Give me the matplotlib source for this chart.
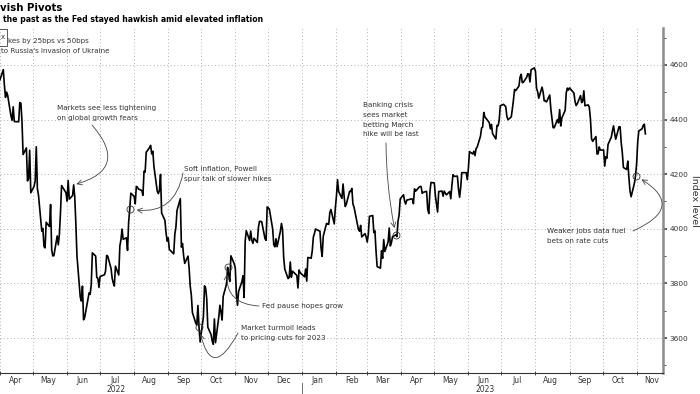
import pandas as pd
import matplotlib
matplotlib.use("Agg")
import matplotlib.pyplot as plt
import matplotlib.dates as mdates
from matplotlib.ticker import MultipleLocator, NullFormatter
from matplotlib.patches import Rectangle

# S&P 500 daily closes
days_2022 = [
    "04-01", "04-04", "04-05", "04-06", "04-07", "04-08", "04-11", "04-12", "04-13", "04-14",
    "04-18", "04-19", "04-20", "04-21", "04-22", "04-25", "04-26", "04-27", "04-28", "04-29",
    "05-02", "05-03", "05-04", "05-05", "05-06", "05-09", "05-10", "05-11", "05-12", "05-13",
    "05-16", "05-17", "05-18", "05-19", "05-20", "05-23", "05-24", "05-25", "05-26", "05-27", "05-31",
    "06-01", "06-02", "06-03", "06-06", "06-07", "06-08", "06-09", "06-10", "06-13", "06-14",
    "06-15", "06-16", "06-17", "06-21", "06-22", "06-23", "06-24", "06-27", "06-28", "06-29", "06-30",
    "07-01", "07-05", "07-06", "07-07", "07-08", "07-11", "07-12", "07-13", "07-14", "07-15",
    "07-18", "07-19", "07-20", "07-21", "07-22", "07-25", "07-26", "07-27", "07-28", "07-29",
    "08-01", "08-02", "08-03", "08-04", "08-05", "08-08", "08-09", "08-10", "08-11", "08-12",
    "08-15", "08-16", "08-17", "08-18", "08-19", "08-22", "08-23", "08-24", "08-25", "08-26",
    "08-29", "08-30", "08-31",
    "09-01", "09-02", "09-06", "09-07", "09-08", "09-09", "09-12", "09-13", "09-14", "09-15",
    "09-16", "09-19", "09-20", "09-21", "09-22", "09-23", "09-26", "09-27", "09-28", "09-29", "09-30",
    "10-03", "10-04", "10-05", "10-06", "10-07", "10-10", "10-11", "10-12", "10-13", "10-14",
    "10-17", "10-18", "10-19", "10-20", "10-21", "10-24", "10-25", "10-26", "10-27", "10-28", "10-31",
    "11-01", "11-02", "11-03", "11-04", "11-07", "11-08", "11-09", "11-10", "11-11", "11-14",
    "11-15", "11-16", "11-17", "11-18", "11-21", "11-22", "11-23", "11-25", "11-28", "11-29", "11-30",
    "12-01", "12-02", "12-05", "12-06", "12-07", "12-08", "12-09", "12-12", "12-13", "12-14",
    "12-15", "12-16", "12-19", "12-20", "12-21", "12-22", "12-23", "12-27", "12-28", "12-29", "12-30",
]
close_2022 = [
    4545.86, 4582.64, 4525.12, 4481.15, 4500.21, 4488.28, 4412.53, 4397.45, 4446.59, 4392.59,
    4391.69, 4462.21, 4459.45, 4393.66, 4271.78, 4296.12, 4175.20, 4183.96, 4287.50, 4131.93,
    4155.38, 4175.48, 4300.17, 4146.87, 4123.34, 3991.24, 4001.05, 3935.18, 3930.08, 4023.89,
    4008.01, 4088.85, 3923.68, 3900.79, 3901.36, 3973.75, 3941.48, 3978.73, 4057.84, 4158.24, 4132.15,
    4101.23, 4176.82, 4108.54, 4121.43, 4160.68, 4115.77, 4017.82, 3900.86, 3749.63, 3735.48,
    3789.99, 3666.77, 3674.84, 3764.79, 3759.89, 3795.73, 3911.74, 3900.11, 3821.55, 3818.83, 3785.38,
    3825.33, 3831.39, 3845.08, 3902.62, 3899.38, 3854.43, 3818.80, 3801.78, 3790.38, 3863.16,
    3830.85, 3936.69, 3959.90, 3998.95, 3961.63, 3966.84, 3921.05, 4023.61, 4072.43, 4130.29,
    4118.63, 4091.19, 4155.17, 4151.94, 4145.19, 4140.06, 4122.47, 4210.24, 4207.27, 4280.15,
    4297.14, 4305.20, 4274.04, 4283.74, 4228.48, 4137.99, 4128.73, 4140.77, 4199.12, 4057.66,
    4030.61, 3986.16, 3955.00,
    3966.85, 3924.26, 3908.19, 3979.87, 4006.18, 4067.36, 4110.41, 3932.69, 3946.01, 3901.35,
    3873.33, 3899.89, 3855.93, 3789.93, 3757.99, 3693.23, 3655.04, 3647.29, 3719.04, 3640.47, 3585.62,
    3678.43, 3790.93, 3783.28, 3744.52, 3639.66, 3612.39, 3588.84, 3577.03, 3669.91, 3583.07,
    3677.95, 3719.98, 3695.16, 3665.78, 3752.75, 3797.34, 3859.11, 3830.60, 3807.30, 3901.06, 3871.98,
    3856.10, 3759.69, 3719.89, 3770.55, 3806.80, 3828.11, 3748.57, 3956.37, 3992.93, 3957.25,
    3991.73, 3958.79, 3946.56, 3965.34, 3949.94, 4003.58, 4027.26, 4026.12, 3963.94, 3957.63, 4080.11,
    4076.57, 4071.70, 3998.84, 3941.26, 3933.92, 3963.51, 3934.38, 3990.56, 4019.65, 3995.32,
    3895.75, 3852.36, 3817.66, 3821.62, 3878.44, 3822.39, 3844.82, 3829.25, 3783.22, 3849.28, 3839.50,
]
days_2023 = [
    "01-03", "01-04", "01-05", "01-06", "01-09", "01-10", "01-11", "01-12", "01-13", "01-17",
    "01-18", "01-19", "01-20", "01-23", "01-24", "01-25", "01-26", "01-27", "01-30", "01-31",
    "02-01", "02-02", "02-03", "02-06", "02-07", "02-08", "02-09", "02-10", "02-13", "02-14",
    "02-15", "02-16", "02-17", "02-21", "02-22", "02-23", "02-24", "02-27", "02-28",
    "03-01", "03-02", "03-03", "03-06", "03-07", "03-08", "03-09", "03-10", "03-13", "03-14",
    "03-15", "03-16", "03-17", "03-20", "03-21", "03-22", "03-23", "03-24", "03-27", "03-28",
    "03-29", "03-30", "03-31",
    "04-03", "04-04", "04-05", "04-06", "04-10", "04-11", "04-12", "04-13", "04-14", "04-17",
    "04-18", "04-19", "04-20", "04-21", "04-24", "04-25", "04-26", "04-27", "04-28",
    "05-01", "05-02", "05-03", "05-04", "05-05", "05-08", "05-09", "05-10", "05-11", "05-12",
    "05-15", "05-16", "05-17", "05-18", "05-19", "05-22", "05-23", "05-24", "05-25", "05-26",
    "05-30", "05-31",
    "06-01", "06-02", "06-05", "06-06", "06-07", "06-08", "06-09", "06-12", "06-13", "06-14",
    "06-15", "06-16", "06-20", "06-21", "06-22", "06-23", "06-26", "06-27", "06-28", "06-29", "06-30",
    "07-03", "07-05", "07-06", "07-07", "07-10", "07-11", "07-12", "07-13", "07-14", "07-17",
    "07-18", "07-19", "07-20", "07-21", "07-24", "07-25", "07-26", "07-27", "07-28", "07-31",
    "08-01", "08-02", "08-03", "08-04", "08-07", "08-08", "08-09", "08-10", "08-11", "08-14",
    "08-15", "08-16", "08-17", "08-18", "08-21", "08-22", "08-23", "08-24", "08-25", "08-28",
    "08-29", "08-30", "08-31",
    "09-01", "09-05", "09-06", "09-07", "09-08", "09-11", "09-12", "09-13", "09-14", "09-15",
    "09-18", "09-19", "09-20", "09-21", "09-22", "09-25", "09-26", "09-27", "09-28", "09-29",
    "10-02", "10-03", "10-04", "10-05", "10-06", "10-09", "10-10", "10-11", "10-12", "10-13",
    "10-16", "10-17", "10-18", "10-19", "10-20", "10-23", "10-24", "10-25", "10-26", "10-27",
    "10-30", "10-31",
    "11-01", "11-02", "11-03", "11-06", "11-07", "11-08", "11-09",
]
close_2023 = [
    3824.14, 3852.97, 3808.10, 3895.08, 3892.09, 3919.25, 3969.61, 3983.17, 3999.09, 3990.97,
    3928.86, 3898.85, 3972.61, 4019.81, 4016.95, 4016.22, 4060.43, 4070.56, 4017.77, 4076.60,
    4119.21, 4179.76, 4136.48, 4111.08, 4164.00, 4117.86, 4081.50, 4090.46, 4137.29, 4136.13,
    4147.60, 4090.41, 4079.09, 3997.34, 3991.05, 4012.32, 3970.04, 3982.24, 3970.15,
    3951.39, 3981.35, 4045.64, 4048.42, 3986.37, 3992.01, 3918.32, 3861.59, 3855.76, 3919.29,
    3891.93, 3960.28, 3916.64, 3951.57, 4002.87, 3936.97, 3948.72, 3970.99, 3977.53, 3971.27,
    4027.81, 4050.83, 4109.31,
    4124.51, 4100.60, 4090.38, 4105.02, 4109.11, 4108.94, 4091.95, 4146.22, 4137.64, 4151.32,
    4154.87, 4154.52, 4129.79, 4133.52, 4137.04, 4071.63, 4055.99, 4135.35, 4169.48,
    4167.87, 4119.58, 4090.75, 4061.22, 4136.25, 4138.12, 4119.17, 4137.64, 4130.62, 4124.08,
    4136.28, 4109.90, 4158.77, 4198.05, 4191.98, 4192.63, 4145.58, 4115.24, 4151.28, 4205.45,
    4205.52, 4179.83,
    4221.02, 4282.37, 4273.79, 4283.85, 4267.52, 4293.93, 4298.86, 4338.93, 4369.01, 4372.59,
    4425.84, 4409.59, 4388.71, 4365.69, 4381.89, 4348.33, 4328.82, 4378.41, 4376.86, 4396.44, 4450.38,
    4455.59, 4446.82, 4411.59, 4398.95, 4409.53, 4439.26, 4472.16, 4510.04, 4505.42, 4522.79,
    4554.98, 4565.72, 4534.87, 4536.34, 4554.64, 4567.46, 4566.75, 4537.41, 4582.23, 4588.96,
    4576.73, 4513.39, 4501.89, 4478.03, 4518.44, 4499.38, 4467.71, 4468.83, 4464.05, 4489.72,
    4437.86, 4404.33, 4370.36, 4369.71, 4399.77, 4387.55, 4436.01, 4376.31, 4405.71, 4433.31,
    4497.63, 4514.87, 4507.66,
    4515.77, 4496.83, 4465.48, 4451.14, 4457.49, 4487.46, 4461.90, 4467.44, 4505.10, 4450.32,
    4453.53, 4443.95, 4402.20, 4330.00, 4320.06, 4337.44, 4273.53, 4274.51, 4299.70, 4288.05,
    4288.39, 4229.45, 4263.75, 4258.19, 4308.50, 4335.66, 4358.24, 4376.95, 4349.61, 4327.78,
    4373.63, 4373.20, 4314.60, 4278.00, 4224.16, 4217.04, 4247.68, 4186.77, 4137.23, 4117.37,
    4166.82, 4193.80,
    4237.86, 4317.78, 4358.34, 4365.98, 4378.38, 4382.78, 4347.35,
]

# year labels shown under one month of each year
year_labels = ["2022", "2023"]
year_label_dates = ["2022-07-16", "2023-06-16"]

# annotated events
event_dates = ["2022-06-07", "2022-07-28", "2022-10-25", "2022-09-29", "2023-03-27", "2023-10-31"]
event_text = [
    "Markets see less tightening\non global growth fears",
    "Soft inflation, Powell\nspur talk of slower hikes",
    "Fed pause hopes grow",
    "Market turmoil leads\nto pricing cuts for 2023",
    "Banking crisis\nsees market\nbetting March\nhike will be last",
    "Weaker jobs data fuel\nbets on rate cuts",
]
circled = [False, True, True, True, True, True]

dates = pd.to_datetime(["2022-" + d for d in days_2022] + ["2023-" + d for d in days_2023])
spx = pd.Series(close_2022 + close_2023, index=dates)

W, H = 700, 394
fig = plt.figure(figsize=(7, 3.94), dpi=100)
ax = fig.add_axes([0, 1 - 373 / H, 663 / W, (373 - 28) / H])

ax.plot(spx.index, spx.values, color="black", lw=1.2, zorder=3)

ax.set_xlim(pd.Timestamp("2022-04-01"), pd.Timestamp("2023-11-25"))
ax.set_ylim(3472, 4735)

for sp in ["left", "top"]:
    ax.spines[sp].set_visible(False)
ax.spines["right"].set_color("#8c8c8c")
ax.spines["right"].set_linewidth(1.8)
ax.spines["bottom"].set_color("#333333")
ax.spines["bottom"].set_linewidth(0.8)

# x axis: ticks at month starts, labels mid-month
ax.xaxis.set_major_locator(mdates.MonthLocator())
ax.xaxis.set_major_formatter(NullFormatter())
ax.xaxis.set_minor_locator(mdates.MonthLocator(bymonthday=15))
ax.xaxis.set_minor_formatter(mdates.DateFormatter("%b"))
ax.tick_params(axis="x", which="major", direction="inout", length=3, width=0.6, color="#333333")
ax.tick_params(axis="x", which="minor", length=0, pad=2.5, labelsize=5.5, labelcolor="#333333")

for lab, d in zip(year_labels, year_label_dates):
    ax.text(pd.Timestamp(d), -0.047, lab, transform=ax.get_xaxis_transform(), ha="center",
            va="center", fontsize=5.5, color="#333333", clip_on=False)

# year divider below the axis at Jan 2023
ax.plot([pd.Timestamp("2023-01-01")] * 2, [-0.03, -0.07], color="#555555", lw=0.6,
        transform=ax.get_xaxis_transform(), clip_on=False)

# y axis on the right
ax.yaxis.tick_right()
ax.yaxis.set_label_position("right")
ax.yaxis.set_major_locator(MultipleLocator(200))
ax.yaxis.set_minor_locator(MultipleLocator(100))
ax.tick_params(axis="y", which="major", direction="out", length=3, width=1.1, color="#333333",
               labelsize=5.3, labelcolor="#333333", pad=1.5)
ax.tick_params(axis="y", which="minor", direction="out", length=2, width=0.6, color="#333333")
ax.set_ylabel("Index level", rotation=270, fontsize=6.8, color="#333333", labelpad=8)

ax.grid(True, which="major", color="#b0b0b0", linestyle=(0, (1, 2.5)), lw=0.7)

# headline (cropped on the left in the original)
fig.text(0, 1 - 8 / H, "vish Pivots", fontsize=7.3, fontweight="bold", va="center")
fig.text(3 / W, 1 - 19 / H, "the past as the Fed stayed hawkish amid elevated inflation",
         fontsize=5.6, fontweight="bold", va="center")
fig.add_artist(Rectangle((-2 / W, 1 - 46 / H), 9 / W, 17 / H, transform=fig.transFigure,
                         fill=False, ec="#555555", lw=0.7))
fig.text(0.5 / W, 1 - 37 / H, "x", fontsize=5, color="#333333", va="center")
fig.text(8 / W, 1 - 41 / H, "kes by 25bps vs 50bps", fontsize=5.1, color="#333333", va="center")
fig.text(1 / W, 1 - 51 / H, "to Russia's invasion of Ukraine", fontsize=5.1, color="#333333",
         va="center")

# annotations
text_pos = [(57, 105), (184, 166), (262, 306), (241, 325), (363, 102), (547, 228)]
arrow_start = [(92, 125), (183, 173), (259, 306), (238, 333), (386, 143), (633, 231)]
arrow_rad = [-0.8, -0.5, -0.55, -1.4, 0.05, 1.0]
arrow_shrink = [2, 5, 5, 5, 5, 5]

for i, d in enumerate(event_dates):
    t = pd.Timestamp(d)
    v = spx.loc[t]
    if circled[i]:
        ax.plot(t, v, "o", ms=5, mfc="none", mec="#333333", mew=0.6, zorder=4)
    tx, ty = text_pos[i]
    va = "center" if "\n" not in event_text[i] else "top"
    fig.text(tx / W, 1 - ty / H, event_text[i], fontsize=5.2, color="#333333",
             va=va, ha="left", linespacing=1.75)
    sx, sy = arrow_start[i]
    ax.annotate("", xy=(t, v), xycoords="data", xytext=(sx, H - sy), textcoords="figure pixels",
                arrowprops=dict(arrowstyle="->,head_length=0.35,head_width=0.18", color="#444444",
                                lw=0.6, shrinkA=0, shrinkB=arrow_shrink[i],
                                connectionstyle=f"arc3,rad={arrow_rad[i]}"),
                annotation_clip=False)

fig.savefig("out.png", dpi=100)
